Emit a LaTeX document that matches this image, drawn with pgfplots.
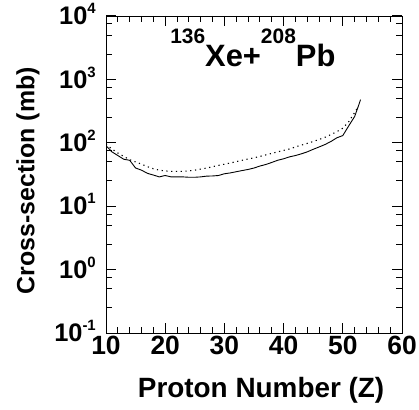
\documentclass[border=0pt]{standalone}
\usepackage{fontspec}
\setmainfont{Liberation Sans}
\usepackage{pgfplots}
\pgfplotsset{compat=1.18}
\usetikzlibrary{calc}

% raised small digits, kept out of the label's height
\newcommand{\sups}[3]{\smash{\raisebox{#3}{\fontsize{#2}{#2}\selectfont\bfseries #1}}}

\begin{document}
\begin{tikzpicture}
\begin{axis}[
  scale only axis,
  width=296bp, height=317bp,
  xmin=10, xmax=60,
  ymode=log, ymin=0.1, ymax=10000,
  xtick={10,20,...,60},
  minor xtick={12,14,16,18,22,24,26,28,32,34,36,38,42,44,46,48,52,54,56,58},
  ytick={0.1,1,10,100,1000,10000},
  yticklabels={10\sups{-1}{15}{11bp},10\sups{0}{15}{11bp},10\sups{1}{15}{11bp},10\sups{2}{15}{11bp},10\sups{3}{15}{11bp},10\sups{4}{15}{11bp}},
  minor ytick={0.25,0.5,0.75,2.5,5,7.5,25,50,75,250,500,750,2500,5000,7500},
  tick align=inside,
  major tick length=10bp,
  minor tick length=6bp,
  tick style={black, line width=1pt},
  axis line style={black, line width=0.9pt},
  /pgf/number format/assume math mode=true,
  xticklabel style={font=\fontsize{26.5}{26.5}\selectfont\bfseries, inner sep=3bp},
  yticklabel style={font=\fontsize{25.5}{25.5}\selectfont\bfseries, inner sep=0bp, xshift=-10bp},
  xlabel={Proton Number (Z)},
  ylabel={Cross-section (mb)},
  xlabel style={font=\fontsize{28}{28}\selectfont\bfseries, at={(axis description cs:0.524,-0.205)}, anchor=base},
  ylabel style={font=\fontsize{25}{25}\selectfont\bfseries, at={(axis description cs:-0.2635,0.481)}, anchor=center, rotate=0},
]
  % solid curve
  \addplot[black, line width=0.9pt] coordinates {
    (10,90) (11,72) (12,63) (13,55) (14,53) (15,40) (16,37) (17,33) (18,31)
    (19,29) (20,30.5) (21,29) (22,29) (23,29) (24,28.6) (25,28.6) (26,29)
    (27,29.8) (28,30) (29,30.5) (30,32.5) (31,33.5) (32,35) (33,36.5) (34,38)
    (35,40) (36,43) (37,45.5) (38,49) (39,53) (40,56) (41,60) (42,63) (43,67)
    (44,72) (45,79) (46,86) (47,94) (48,105) (49,120) (50,130) (51,185)
    (52,260) (52.5,350) (53,480)
  };
  % dotted curve
  \addplot[black, line width=1.1pt, dash pattern=on 1.2pt off 3.6pt] coordinates {
    (10,95) (11,80) (12,69) (13,61) (14,54) (15,50) (16,46) (17,42) (18,39)
    (19,37) (20,36) (21,35.5) (22,35.5) (23,35.5) (24,36) (25,37) (26,38.5)
    (27,40) (28,42) (29,44) (30,46) (31,48) (32,50.5) (33,53) (34,55.5)
    (35,58) (36,61) (37,64.5) (38,68) (39,72) (40,76) (41,80) (42,86)
    (43,92) (44,98) (45,105) (46,113) (47,122) (48,135) (49,150) (50,170)
    (51,215) (52,300) (52.5,360)
  };
  \node[anchor=base, inner sep=0pt, font=\fontsize{31}{31}\selectfont\bfseries]
    at (axis cs:34.8,1581) {\sups{136}{21}{23bp}Xe+\sups{208}{21}{23bp}Pb};
\end{axis}
\pgfresetboundingbox
\path[use as bounding box] ($(current axis.south west)+(-106bp,-76bp)$) rectangle ($(current axis.north east)+(17bp,16bp)$);
\end{tikzpicture}
\end{document}
